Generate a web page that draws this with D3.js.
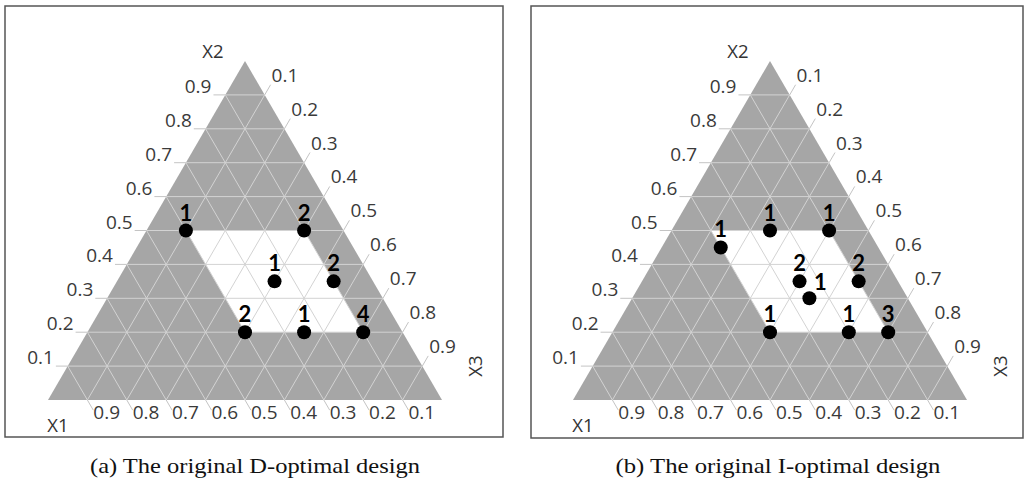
<!DOCTYPE html>
<html>
<head>
<meta charset="utf-8">
<title>original optimal designs</title>
<style>
  body{margin:0;background:#fff;}
  svg{display:block;}
  .tick-label{font-family:"Open Sans",sans-serif;font-size:19px;fill:#3a3a3a;}
  .axis-name{font-family:"Open Sans",sans-serif;font-size:18.5px;fill:#333;}
  .count{font-family:Lato,"Open Sans",sans-serif;font-weight:700;font-size:22px;fill:#000;}
  .caption{font-family:"Liberation Serif",serif;font-size:22px;fill:#111;}
</style>
</head>
<body>
<div id="container"></div>
<script src="https://cdn.jsdelivr.net/npm/d3@7"></script>
<script>
// tick values shared by all three edges
var ticks = [0.1,0.2,0.3,0.4,0.5,0.6,0.7,0.8,0.9];

// feasible (white) region, vertices as [X1, X2]
var regionX1 = [0.4,0.1,0.1,0.4];
var regionX2 = [0.5,0.5,0.2,0.2];

// D-optimal design points
var dX1 = [0.4,0.1,0.25,0.1,0.4,0.25,0.1];
var dX2 = [0.5,0.5,0.35,0.35,0.2,0.2,0.2];
var dCount = [1,2,1,2,2,1,4];

// I-optimal design points
var iX1 = [0.4,0.25,0.1,0.25,0.25,0.1,0.4,0.2,0.1];
var iX2 = [0.45,0.5,0.5,0.35,0.3,0.35,0.2,0.2,0.2];
var iCount = [1,1,1,2,1,2,1,1,3];

var captions = ["(a) The original D-optimal design","(b) The original I-optimal design"];

var W = 1025, H = 485;
var svg = d3.select("#container").append("svg").attr("width",W).attr("height",H);

var panels = [
  {frame:[5,6,498,431], tri:[48,442], cap:255, x1:dX1, x2:dX2, n:dCount, side:[]},
  {frame:[531,6,492,432], tri:[573,967], cap:778, x1:iX1, x2:iX2, n:iCount, side:[4]}
];

var fillGray = "#a6a6a6", gridCol = "#d3d3d3", tickCol = "#c4c4c4";

panels.forEach(function(p,pi){
  var g = svg.append("g");
  g.append("rect")
    .attr("x",p.frame[0]).attr("y",p.frame[1])
    .attr("width",p.frame[2]).attr("height",p.frame[3])
    .attr("fill","none").attr("stroke","#555").attr("stroke-width",1.5);

  var xs = d3.scaleLinear().domain([0,1]).range(p.tri);
  var ys = d3.scaleLinear().domain([0,1]).range([400,61]);
  // (X1,X2) -> pixel, X3 = 1 - X1 - X2
  function pt(a,b){ var c = 1-a-b; return [xs(c + b/2), ys(b)]; }
  var line = d3.line();

  g.append("path").attr("d", line([pt(1,0),pt(0,1),pt(0,0)]) + "Z").attr("fill",fillGray);
  g.append("path")
    .attr("d", line(regionX1.map(function(a,i){return pt(a,regionX2[i]);})) + "Z")
    .attr("fill","#fff");

  var ext = 0.03;
  ticks.forEach(function(k){
    // grid lines
    [[pt(1-k,k),pt(0,k)],[pt(k,0),pt(k,1-k)],[pt(1-k,0),pt(0,1-k)]].forEach(function(s){
      g.append("path").attr("d",line(s)).attr("stroke",gridCol).attr("stroke-width",1).attr("fill","none");
    });
    // left ticks: X2
    var a0 = pt(1-k,k), a1 = pt(1-k+ext,k);
    g.append("path").attr("d",line([a0,a1])).attr("stroke",tickCol).attr("fill","none");
    g.append("text").attr("class","tick-label").attr("text-anchor","end")
      .attr("x",a1[0]-2).attr("y",a1[1]-2).text(k.toFixed(1));
    // right ticks: X3
    var b0 = pt(0,1-k), b1 = pt(-ext,1-k+ext);
    g.append("path").attr("d",line([b0,b1])).attr("stroke",tickCol).attr("fill","none");
    g.append("text").attr("class","tick-label")
      .attr("x",b1[0]+1).attr("y",b1[1]-3).text(k.toFixed(1));
    // bottom ticks: X1
    var c0 = pt(k,0), c1 = pt(k,-ext);
    g.append("path").attr("d",line([c0,c1])).attr("stroke",tickCol).attr("fill","none");
    g.append("text").attr("class","tick-label")
      .attr("x",c1[0]).attr("y",c1[1]+9).text(k.toFixed(1));
  });

  var top = pt(0,1), bl = pt(1,0), br = pt(0,0);
  g.append("text").attr("class","axis-name").attr("text-anchor","middle")
    .attr("x",top[0]-32).attr("y",top[1]-3).text("X2");
  g.append("text").attr("class","axis-name").attr("text-anchor","middle")
    .attr("x",bl[0]+10).attr("y",bl[1]+32).text("X1");
  g.append("text").attr("class","axis-name").attr("text-anchor","middle")
    .attr("transform","translate("+(br[0]+40)+","+(br[1]-34)+") rotate(-90)").text("X3");

  var pts = p.x1.map(function(a,i){ return {xy:pt(a,p.x2[i]), n:p.n[i], side:p.side.indexOf(i)>=0}; });
  g.selectAll("circle.dot").data(pts).enter().append("circle")
    .attr("cx",function(d){return d.xy[0];}).attr("cy",function(d){return d.xy[1];})
    .attr("r",7).attr("fill","#000");
  g.selectAll("text.count").data(pts).enter().append("text")
    .attr("class","count").attr("text-anchor","middle")
    .attr("x",function(d){return d.xy[0] + (d.side ? 11 : 0);})
    .attr("y",function(d){return d.xy[1] - (d.side ? 8 : 10);})
    .text(function(d){return d.n;});

  svg.append("text").attr("class","caption").attr("text-anchor","middle")
    .attr("x",p.cap).attr("y",473)
    .attr("textLength",pi === 0 ? 330 : 325).attr("lengthAdjust","spacingAndGlyphs")
    .text(captions[pi]);
});
</script>
</body>
</html>
